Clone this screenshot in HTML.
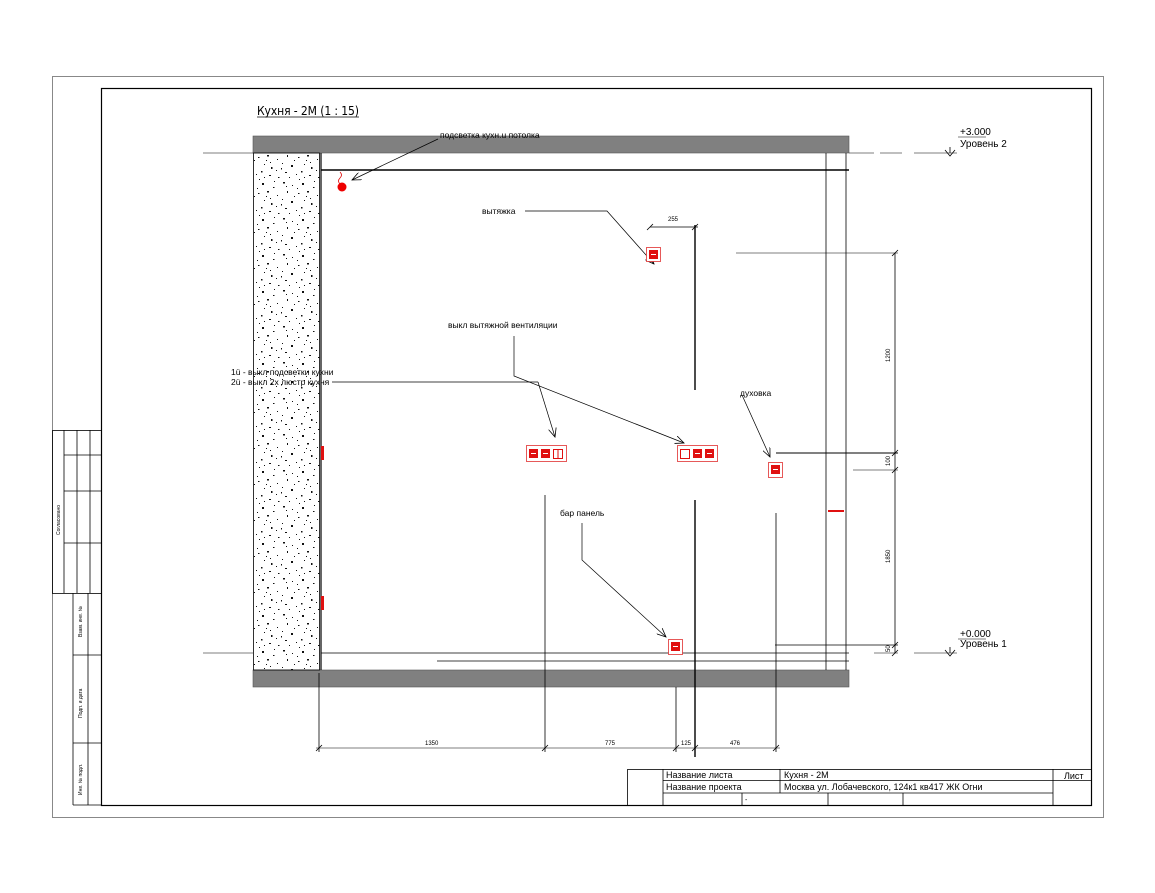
<!DOCTYPE html>
<html><head><meta charset="utf-8"><style>
html,body{margin:0;padding:0;background:#fff;}
svg{display:block;}
text{font-family:"Liberation Sans","DejaVu Sans",sans-serif;fill:#000;}
.n{font-family:"DejaVu Sans Condensed","Liberation Sans",sans-serif;}
</style></head><body>
<svg width="1155" height="893" viewBox="0 0 1155 893" xmlns="http://www.w3.org/2000/svg">
<defs>
<pattern id="sp" width="40" height="36" patternUnits="userSpaceOnUse">
<g fill="#111">
<rect x="3" y="2" width="2" height="1.5"/><rect x="12" y="5" width="1" height="1"/><rect x="22" y="3" width="2" height="2"/><rect x="33" y="7" width="1.5" height="1"/>
<rect x="7" y="11" width="1" height="2"/><rect x="18" y="13" width="1.5" height="1"/><rect x="27" y="11" width="2" height="1.5"/><rect x="37" y="15" width="1" height="1"/>
<rect x="2" y="19" width="1" height="1"/><rect x="11" y="21" width="2" height="2"/><rect x="24" y="20" width="1" height="1"/><rect x="31" y="23" width="1.5" height="2"/>
<rect x="5" y="28" width="2" height="1"/><rect x="16" y="30" width="1" height="1"/><rect x="21" y="27" width="1.5" height="1.5"/><rect x="29" y="31" width="2" height="1"/><rect x="36" y="26" width="1" height="1"/>
<rect x="9" y="33" width="1" height="1"/><rect x="14" y="16" width="1" height="1"/><rect x="34" y="1" width="1" height="1"/>
<rect x="26" y="16" width="1" height="1"/><rect x="6" y="6" width="1" height="1"/><rect x="17" y="8" width="1" height="1"/><rect x="38" y="33" width="1.5" height="1"/>
<rect x="1" y="24" width="1" height="1.5"/><rect x="19" y="35" width="1" height="1"/><rect x="30" y="18" width="1" height="1"/><rect x="24" y="33" width="1" height="1"/>
</g></pattern>
<marker id="ar" markerWidth="10" markerHeight="8" refX="9" refY="4" orient="auto" markerUnits="userSpaceOnUse"><path d="M0,0 L9,4 L0,8" fill="none" stroke="#000" stroke-width="0.8"/></marker>
</defs>
<rect x="52.5" y="76.5" width="1051" height="741" fill="none" stroke="#888" stroke-width="1"/>
<rect x="101.5" y="88.5" width="990" height="717" fill="none" stroke="#000" stroke-width="1.2"/>
<g stroke="#000" stroke-width="0.8" fill="none">
<rect x="52.5" y="430.5" width="49" height="163"/>
<line x1="64" y1="430" x2="64" y2="593"/><line x1="77" y1="430" x2="77" y2="593"/><line x1="90" y1="430" x2="90" y2="593"/>
<line x1="64" y1="455" x2="101" y2="455"/><line x1="64" y1="491" x2="101" y2="491"/><line x1="64" y1="543" x2="101" y2="543"/>
<line x1="73" y1="593" x2="73" y2="805"/><line x1="88" y1="593" x2="88" y2="805"/>
<line x1="73" y1="655" x2="101" y2="655"/><line x1="73" y1="743" x2="101" y2="743"/><line x1="73" y1="805" x2="101" y2="805"/>
</g>
<g font-size="5">
<text transform="translate(60,535) rotate(-90)">Согласовано</text>
<text transform="translate(82,637) rotate(-90)">Взам. инв. №</text>
<text transform="translate(82,718) rotate(-90)">Подп. и дата</text>
<text transform="translate(82,795) rotate(-90)">Инв. № подл.</text>
</g>
<g stroke="#000" stroke-width="0.8" fill="none">
<rect x="627.5" y="769.5" width="464" height="36"/>
<line x1="663" y1="769" x2="663" y2="805"/><line x1="780" y1="769" x2="780" y2="793"/><line x1="1053" y1="769" x2="1053" y2="805"/>
<line x1="663" y1="780.5" x2="1091" y2="780.5"/><line x1="663" y1="793" x2="1053" y2="793"/>
<line x1="742" y1="793" x2="742" y2="805"/><line x1="828" y1="793" x2="828" y2="805"/><line x1="903" y1="793" x2="903" y2="805"/>
</g>
<g font-size="9">
<text x="666" y="778">Название листа</text><text x="784" y="778">Кухня - 2M</text>
<text x="666" y="790">Название проекта</text><text x="784" y="790">Москва ул. Лобачевского, 124к1 кв417 ЖК Огни</text>
<text x="1064" y="779">Лист</text><text x="745" y="802" font-size="7">-</text>
</g>
<text x="257" y="115" font-size="12" class="n" textLength="102">Кухня - 2M (1 : 15)</text>
<line x1="257" y1="117" x2="359" y2="117" stroke="#000" stroke-width="0.8"/>
<rect x="253" y="136" width="596" height="17" fill="#808080" stroke="#555" stroke-width="0.6"/>
<rect x="253" y="670" width="596" height="17" fill="#808080" stroke="#555" stroke-width="0.6"/>
<rect x="253.5" y="153" width="66" height="517" fill="url(#sp)" stroke="#000" stroke-width="0.8"/>
<g stroke="#000" fill="none">
<line x1="321" y1="153" x2="321" y2="670" stroke-width="1.2"/>
<line x1="321" y1="170" x2="849" y2="170" stroke-width="1.4"/>
<line x1="826" y1="153" x2="826" y2="670" stroke-width="0.8"/>
<line x1="846" y1="153" x2="846" y2="670" stroke-width="0.8"/>
<line x1="203" y1="153" x2="253" y2="153" stroke-width="0.6"/>
<line x1="849" y1="153" x2="874" y2="153" stroke-width="0.6"/><line x1="880" y1="153" x2="902" y2="153" stroke-width="0.6"/><line x1="914" y1="153" x2="957" y2="153" stroke-width="0.6"/>
<line x1="203" y1="653" x2="253" y2="653" stroke-width="0.6"/>
<line x1="321" y1="653" x2="849" y2="653" stroke-width="0.8"/>
<line x1="874" y1="653" x2="898" y2="653" stroke-width="0.6"/><line x1="914" y1="653" x2="957" y2="653" stroke-width="0.6"/>
<line x1="437" y1="661" x2="849" y2="661" stroke-width="0.8"/>
<path d="M950,147 V153 M945,150 L950,156 L955,150" stroke-width="0.8"/>
<path d="M950,647 V653 M945,650 L950,656 L955,650" stroke-width="0.8"/>
<line x1="895" y1="253" x2="895" y2="653" stroke-width="0.8"/>
<line x1="736" y1="253" x2="898" y2="253" stroke-width="0.6"/>
<line x1="776" y1="453" x2="898" y2="453" stroke-width="1"/>
<line x1="853" y1="470" x2="898" y2="470" stroke-width="0.6"/>
<line x1="775" y1="645" x2="898" y2="645" stroke-width="0.8"/>
<path d="M892,256 L898,250 M892,456 L898,450 M892,473 L898,467 M892,648 L898,642 M892,656 L898,650" stroke-width="0.8"/>
<line x1="695" y1="225" x2="695" y2="390" stroke-width="1.4"/>
<line x1="695" y1="500" x2="695" y2="757" stroke-width="1.4"/>
<line x1="545" y1="495" x2="545" y2="752" stroke-width="0.8"/>
<line x1="776" y1="513" x2="776" y2="752" stroke-width="0.8"/>
<line x1="676" y1="687" x2="676" y2="752" stroke-width="0.8"/>
<line x1="319" y1="673" x2="319" y2="752" stroke-width="0.8"/>
<line x1="316" y1="748" x2="780" y2="748" stroke-width="0.6"/>
<path d="M316,751 L322,745 M542,751 L548,745 M673,751 L679,745 M692,751 L698,745 M773,751 L779,745" stroke-width="0.8"/>
<line x1="650" y1="227" x2="698" y2="227" stroke-width="0.8"/>
<path d="M647,230 L653,224 M692,230 L698,224" stroke-width="0.8"/>
<polyline points="438,139 352,180" stroke-width="0.7" marker-end="url(#ar)"/>
<polyline points="525,211 607,211 654,264" stroke-width="0.7" marker-end="url(#ar)"/>
<line x1="332" y1="382" x2="538" y2="382" stroke-width="0.7"/>
<polyline points="514,336 514,376 684,443" stroke-width="0.7" marker-end="url(#ar)"/>
<polyline points="538,382 555,437" stroke-width="0.7" marker-end="url(#ar)"/>
<polyline points="742,395 770,457" stroke-width="0.7" marker-end="url(#ar)"/>
<polyline points="582,523 582,560 666,637" stroke-width="0.7" marker-end="url(#ar)"/>
</g>
<g font-size="8.5" class="n">
<text x="440" y="138">подсветка кухн.u потолка</text>
<text x="482" y="214">вытяжка</text>
<text x="448" y="328">выкл вытяжной вентиляции</text>
<text x="231" y="375">1ü - выкл подсветки кухни</text>
<text x="231" y="385">2ü - выкл 2х люстр кухня</text>
<text x="740" y="396">духовка</text>
<text x="560" y="516">бар панель</text>
</g>
<g font-size="6" class="n">
<text x="668" y="221">255</text>
<text x="425" y="745">1350</text>
<text x="605" y="745">775</text>
<text x="681" y="745">125</text>
<text x="730" y="745">476</text>
<text transform="translate(890,362) rotate(-90)">1200</text>
<text transform="translate(890,466) rotate(-90)">100</text>
<text transform="translate(890,563) rotate(-90)">1850</text>
<text transform="translate(890,652) rotate(-90)">50</text>
</g>
<g font-size="10">
<text x="960" y="135">+3.000</text><line x1="958" y1="137" x2="986" y2="137" stroke="#000" stroke-width="0.6"/>
<text x="960" y="147">Уровень 2</text>
<text x="960" y="637">+0.000</text><line x1="958" y1="639" x2="986" y2="639" stroke="#000" stroke-width="0.6"/>
<text x="960" y="647">Уровень 1</text>
</g>
<path d="M340,172 q3,3 0,6 q-3,3 0,6" stroke="#d00" fill="none" stroke-width="0.8"/>
<circle cx="342" cy="187" r="4.5" fill="#e00"/>
<g fill="#e01010">
<rect x="321" y="446" width="3" height="14"/><rect x="321" y="596" width="3" height="14"/>
<rect x="828" y="510" width="16" height="2"/>
</g>
<g stroke="#e03030" stroke-width="0.8" fill="#fff">
<rect x="646.5" y="247.5" width="14" height="14"/>
<rect x="526.5" y="445.5" width="40" height="16"/>
<rect x="677.5" y="445.5" width="40" height="16"/>
<rect x="768.5" y="462.5" width="14" height="15"/>
<rect x="668.5" y="639.5" width="14" height="15"/>
</g>
<g fill="#e01010">
<rect x="649" y="250" width="9" height="9"/>
<rect x="529" y="449" width="9" height="9"/><rect x="541" y="449" width="9" height="9"/>
<rect x="693" y="449" width="9" height="9"/><rect x="705" y="449" width="9" height="9"/>
<rect x="771" y="465" width="9" height="9"/>
<rect x="671" y="642" width="9" height="9"/>
</g>
<g stroke="#e01010" stroke-width="1" fill="none">
<rect x="553.5" y="449.5" width="9" height="9"/><line x1="558" y1="449" x2="558" y2="458"/>
<rect x="680.5" y="449.5" width="9" height="9"/>
</g>
<g fill="#fff">
<rect x="651" y="254" width="5" height="1"/><rect x="531" y="453" width="5" height="1"/><rect x="543" y="453" width="5" height="1"/>
<rect x="695" y="453" width="5" height="1"/><rect x="707" y="453" width="5" height="1"/><rect x="773" y="469" width="5" height="1"/><rect x="673" y="646" width="5" height="1"/>
</g>
</svg>
</body></html>
